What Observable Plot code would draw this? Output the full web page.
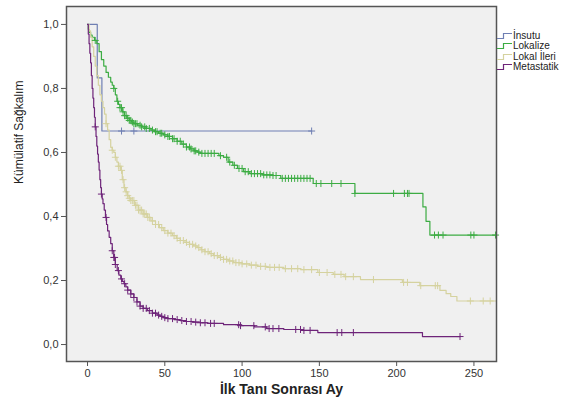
<!DOCTYPE html>
<html>
<head>
<meta charset="utf-8">
<script src="https://cdn.jsdelivr.net/npm/d3@7"></script>
<script src="https://cdn.jsdelivr.net/npm/@observablehq/plot@0.6"></script>
<style>
  body { margin: 0; background: #fff; font-family: Arial, "Liberation Sans", sans-serif; }
  #wrap { position: relative; width: 569px; height: 406px; }
  #legend { position: absolute; left: 497px; top: 31px; font-size: 10px; color: #222; }
  #legend div { display: flex; align-items: center; white-space: nowrap; height: 10.3px; line-height: 10.3px; }
  #legend svg { margin-right: 1px; }
</style>
</head>
<body>
<div id="wrap"></div>
<script>
// Group names and colours
const groups = ["İnsutu", "Lokalize", "Lokal İleri", "Metastatik"];
const colors = ["#6f7fb3", "#3cac43", "#d5d29f", "#6e2479"];

// Kaplan–Meier steps (time in months, cumulative survival)
const insutuT = [0, 6.3, 9.3, 145];
const insutuS = [1.0, 0.833, 0.667, 0.667];
const insutuC = [22, 30, 145];

const lokalizeT = [0, 0.5, 1, 2, 3, 4.5, 6, 7.5, 9, 10.5, 12, 13.5, 15, 16, 17, 18, 19, 20, 21, 22.5, 24, 25.5, 27, 28.5, 30, 32.5, 35, 38, 41, 43.5, 46, 49, 52, 55, 58, 61, 64, 66.5, 69, 71, 73, 85, 88, 91, 94, 97, 101, 105, 113, 120, 125, 146, 173, 217, 219, 221.5, 264.6];
const lokalizeS = [1.0, 0.985, 0.975, 0.967, 0.96, 0.95, 0.94, 0.915, 0.89, 0.87, 0.85, 0.835, 0.82, 0.81, 0.80, 0.78, 0.76, 0.75, 0.74, 0.727, 0.715, 0.707, 0.70, 0.695, 0.69, 0.685, 0.68, 0.675, 0.67, 0.665, 0.66, 0.655, 0.65, 0.643, 0.635, 0.626, 0.617, 0.611, 0.605, 0.601, 0.597, 0.59, 0.585, 0.57, 0.56, 0.55, 0.54, 0.534, 0.53, 0.528, 0.519, 0.503, 0.472, 0.43, 0.385, 0.342, 0.342];
const lokalizeC = [5, 17, 19.5, 21, 22, 23, 24, 25, 26, 27, 28, 29, 30, 31, 32, 34, 35, 37, 38, 40, 42, 44, 45, 47, 48, 50, 52, 53, 55, 56, 58, 60, 62, 64, 66, 67, 69, 70, 72, 74, 76, 78, 80, 82, 86, 90, 92, 95, 98, 100, 102, 104, 106, 108, 110, 112, 114, 116, 118, 120, 122, 126, 128, 130, 132, 134, 136, 138, 140, 142, 144, 148, 151, 158, 164, 173, 198, 205, 207, 208, 224.5, 227, 230, 248, 250, 264];

const lokalIleriT = [0, 1, 2, 3, 4, 5, 6, 7, 8, 9, 10, 11, 12, 13, 14, 15, 16, 17, 18, 19, 20, 21.4, 22.5, 23.6, 24.8, 26, 27, 28, 30.5, 33, 36, 38.7, 41, 44, 46.5, 49, 52, 55, 57.5, 60, 63, 66, 68.5, 71, 73.5, 76, 79, 81.5, 85, 88, 91, 94.5, 100, 105, 110, 116, 127, 138, 149, 159, 166, 176.6, 203.7, 215, 228, 232, 235, 239, 264.6];
const lokalIleriS = [1.0, 0.98, 0.96, 0.93, 0.90, 0.87, 0.84, 0.81, 0.78, 0.76, 0.74, 0.72, 0.69, 0.67, 0.64, 0.616, 0.607, 0.60, 0.585, 0.57, 0.557, 0.544, 0.515, 0.49, 0.477, 0.465, 0.457, 0.45, 0.435, 0.42, 0.408, 0.397, 0.386, 0.375, 0.365, 0.356, 0.348, 0.34, 0.332, 0.325, 0.319, 0.313, 0.308, 0.303, 0.296, 0.29, 0.284, 0.278, 0.272, 0.266, 0.261, 0.256, 0.252, 0.248, 0.244, 0.241, 0.237, 0.234, 0.225, 0.219, 0.212, 0.203, 0.194, 0.184, 0.169, 0.159, 0.15, 0.136, 0.136];
const lokalIleriC = [12, 16, 18, 20, 21, 22, 23, 24, 25, 26, 27, 28, 29, 30, 31, 32, 33, 34, 35, 36, 37, 38, 39, 40, 42, 44, 46, 48, 50, 52, 54, 56, 58, 60, 62, 64, 66, 68, 70, 72, 74, 76, 78, 80, 82, 84, 86, 88, 90, 92, 94, 96, 98, 100, 103, 106, 109, 112, 115, 118, 121, 124, 128, 132, 136, 140, 145, 150, 155, 160, 164, 167, 172, 185, 204.5, 207, 215.6, 225, 226.5, 247.7, 256, 260.5];

const metastatikT = [0, 0.5, 1, 1.5, 2, 2.5, 3, 3.5, 4, 4.5, 5, 5.5, 6, 6.5, 7, 7.5, 8, 8.5, 9, 9.5, 10, 10.8, 11.6, 12.3, 13, 14, 15, 16, 17, 18, 19.2, 20.3, 21.5, 22.5, 23.6, 24.8, 26, 28, 30, 32, 34, 36, 38.7, 42, 45, 47, 49, 52, 56, 60, 64, 68, 73, 77.6, 88, 99, 108, 116, 127, 138, 149, 216.7, 241];
const metastatikS = [1.0, 0.97, 0.94, 0.91, 0.88, 0.84, 0.80, 0.77, 0.74, 0.71, 0.68, 0.65, 0.62, 0.595, 0.57, 0.545, 0.515, 0.49, 0.47, 0.455, 0.44, 0.42, 0.397, 0.375, 0.355, 0.335, 0.315, 0.293, 0.272, 0.25, 0.231, 0.217, 0.205, 0.197, 0.19, 0.18, 0.17, 0.158, 0.147, 0.133, 0.12, 0.113, 0.106, 0.098, 0.092, 0.088, 0.084, 0.081, 0.078, 0.075, 0.072, 0.07, 0.068, 0.066, 0.062, 0.059, 0.055, 0.05, 0.047, 0.044, 0.0375, 0.025, 0.025];
const metastatikC = [5, 9, 12, 16, 17, 17.5, 18, 20, 22, 24, 26, 28, 30, 32, 34, 36, 38, 40, 42, 44, 46, 48, 50, 52, 55, 58, 61, 64, 67, 70, 73, 76, 79.6, 82, 97.8, 99, 107.6, 115, 117.5, 120, 123.8, 134.7, 137.8, 140, 144, 161.5, 164.5, 172, 241];

// Axis ticks
const xTicks = [0, 50, 100, 150, 200, 250];
const yTicks = [0, 0.2, 0.4, 0.6, 0.8, 1.0];

const series = [
  [insutuT, insutuS, insutuC],
  [lokalizeT, lokalizeS, lokalizeC],
  [lokalIleriT, lokalIleriS, lokalIleriC],
  [metastatikT, metastatikS, metastatikC]
];

function survAt(T, S, t) {
  let s = S[0];
  for (let i = 0; i < T.length; i++) if (T[i] <= t) s = S[i];
  return s;
}

const lines = [];
const cens = [];
series.forEach(([T, S, C], gi) => {
  T.forEach((t, i) => lines.push({group: groups[gi], t, s: S[i]}));
  C.forEach(t => cens.push({group: groups[gi], t, s: survAt(T, S, t)}));
});

const fmt = v => d3.format(".1f")(v).replace(".", ",");

const chart = Plot.plot({
  width: 569,
  height: 406,
  marginLeft: 66,
  marginRight: 73,
  marginTop: 6,
  marginBottom: 45,
  style: {fontFamily: "Arial, 'Liberation Sans', sans-serif", fontSize: "11px", color: "#333", background: "#fff"},
  x: {domain: [-13.6, 264.6], ticks: xTicks, tickSize: 5, label: null},
  y: {domain: [-0.053, 1.056], ticks: yTicks, tickFormat: fmt, tickSize: 5, label: null},
  color: {domain: groups, range: colors},
  marks: [
    Plot.frame({fill: "#f0f0f0", stroke: null}),
    Plot.line(lines, {x: "t", y: "s", z: "group", stroke: "group", curve: "step-after", strokeWidth: 1.2}),
    Plot.dot(cens, {x: "t", y: "s", stroke: "group", symbol: "plus", r: 2.4, strokeWidth: 1}),
    Plot.frame({stroke: "#555", strokeWidth: 1.5}),
    Plot.axisX({ticks: xTicks, tickSize: 5, tickPadding: 3, stroke: "#555", fontSize: 11, label: null}),
    Plot.axisY({ticks: yTicks, tickFormat: fmt, tickSize: 5, tickPadding: 3, stroke: "#555", fontSize: 11, label: null}),
    Plot.text(["İlk Tanı Sonrası Ay"], {frameAnchor: "bottom", dy: 32, fontWeight: "bold", fontSize: 14, fill: "#222", text: d => d}),
    Plot.text(["Kümülatif Sağkalım"], {frameAnchor: "left", dx: -47, rotate: -90, fontSize: 12, fill: "#222", text: d => d})
  ]
});

const wrap = document.getElementById("wrap");
wrap.appendChild(chart);

// Legend (step icons) in the right margin
const legend = document.createElement("div");
legend.id = "legend";
groups.forEach((g, i) => {
  const row = document.createElement("div");
  row.innerHTML = `<svg width="15" height="8"><path d="M0,6.5H6.5V1.5H15" fill="none" stroke="${colors[i]}" stroke-width="1.2"/></svg><span>${g}</span>`;
  legend.appendChild(row);
});
wrap.appendChild(legend);
</script>
</body>
</html>
